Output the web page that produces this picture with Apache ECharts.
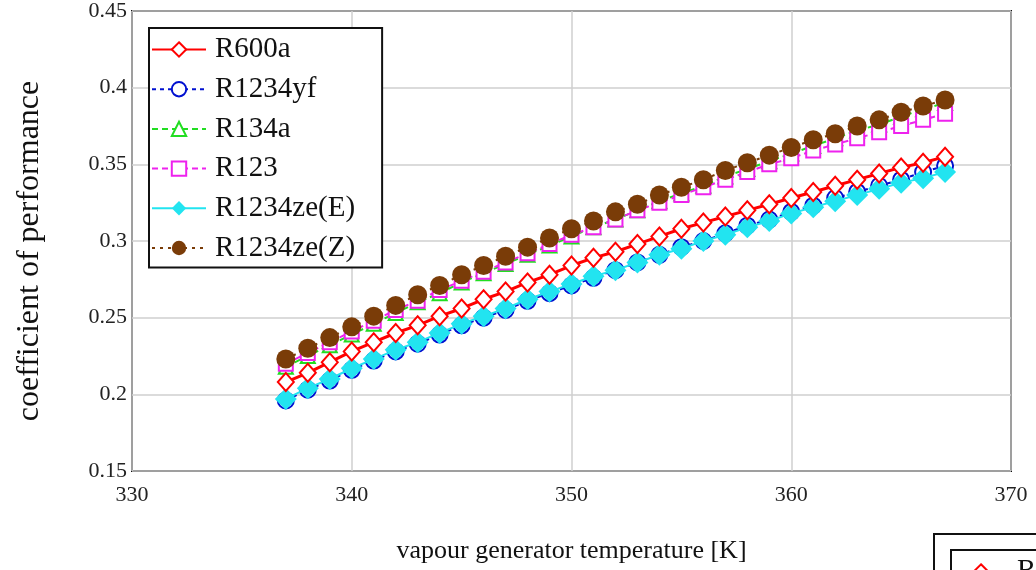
<!DOCTYPE html>
<html>
<head>
<meta charset="utf-8">
<script src="https://cdn.jsdelivr.net/npm/echarts@6/dist/echarts.min.js"></script>
<style>html,body{margin:0;padding:0;background:#fff;}#c{width:1036px;height:570px;}</style>
</head>
<body>
<div id="c"></div>
<script>
const temps = [337,338,339,340,341,342,343,344,345,346,347,348,349,350,351,352,353,354,355,356,357,358,359,360,361,362,363,364,365,366,367];
const R600a = [.208,.214,.221,.228,.234,.240,.245,.251,.256,.262,.267,.273,.278,.284,.289,.293,.298,.303,.308,.312,.316,.320,.324,.328,.332,.336,.340,.344,.348,.351,.355];
const R1234yf = [.196,.203,.209,.216,.222,.228,.233,.239,.245,.250,.255,.261,.266,.271,.276,.281,.286,.291,.296,.300,.305,.310,.314,.319,.323,.328,.332,.336,.340,.345,.349];
const R134a = [.218,.225,.232,.239,.246,.253,.260,.266,.273,.279,.285,.291,.297,.303,.309,.314,.320,.326,.331,.336,.342,.347,.352,.357,.362,.367,.372,.376,.381,.386,.390];
const R123 = [.220,.227,.234,.241,.248,.255,.261,.268,.274,.280,.286,.292,.298,.304,.309,.314,.320,.325,.330,.335,.340,.345,.350,.354,.359,.363,.367,.371,.375,.379,.383];
const R1234zeE = [.197,.204,.210,.217,.223,.229,.234,.240,.246,.251,.256,.262,.267,.272,.277,.281,.286,.291,.295,.300,.304,.309,.313,.318,.322,.326,.330,.334,.338,.341,.345];
const R1234zeZ = [.223,.230,.237,.244,.251,.258,.265,.271,.278,.284,.290,.296,.302,.308,.313,.319,.324,.330,.335,.340,.346,.351,.356,.361,.366,.370,.375,.379,.384,.388,.392];
const seriesNames = ['R600a','R1234yf','R134a','R123','R1234ze(E)','R1234ze(Z)'];
const xTicks = {min:330, max:370, interval:10};
const yTicks = {min:0.15, max:0.45, interval:0.05};

const pair = arr => arr.map((v,i)=>[temps[i], v]);
const serif = '"Liberation Serif","DejaVu Serif",serif';

const chart = echarts.init(document.getElementById('c'), null, {renderer:'canvas'});
chart.setOption({
  animation:false,
  backgroundColor:'#fff',
  grid:{left:132, top:11, right:25, bottom:99, show:true, borderColor:'#111', borderWidth:2,
    backgroundColor:'transparent', containLabel:false, outerBoundsMode:'none'},
  xAxis:{type:'value', min:xTicks.min, max:xTicks.max, interval:xTicks.interval,
    name:'vapour generator temperature [K]', nameLocation:'middle', nameGap:67,
    nameTextStyle:{fontFamily:serif, fontSize:26, color:'#111'},
    axisLine:{show:false}, axisTick:{show:false},
    axisLabel:{fontFamily:serif, fontSize:22, color:'#222', margin:13},
    splitLine:{show:true, lineStyle:{color:'#cfcfcf', width:1.5}}},
  yAxis:{type:'value', min:yTicks.min, max:yTicks.max, interval:yTicks.interval,
    name:'coefficient of performance', nameLocation:'middle', nameGap:86,
    nameTextStyle:{fontFamily:serif, fontSize:32, color:'#111', padding:[0,20,0,0]},
    axisLine:{show:false}, axisTick:{show:false},
    axisLabel:{fontFamily:serif, fontSize:22, color:'#222', margin:5},
    splitLine:{show:true, lineStyle:{color:'#cfcfcf', width:1.5}}},
  legend:[{
    orient:'vertical', left:149, top:28, data:seriesNames,
    borderColor:'#111', borderWidth:2, backgroundColor:'#fff',
    padding:[7,27,5,2], itemWidth:54, itemHeight:18, itemGap:10.7,
    textStyle:{fontFamily:serif, fontSize:29, lineHeight:28, color:'#111', padding:[0,0,0,4]}
  },{
    orient:'vertical', left:951, top:550, data:['R600a'],
    borderColor:'#111', borderWidth:2, backgroundColor:'#fff',
    padding:[7,14,6,2], itemWidth:54, itemHeight:18,
    textStyle:{fontFamily:serif, fontSize:29, lineHeight:28, color:'#111', padding:[0,0,0,4]}
  }],
  graphic:[{type:'rect', left:933, top:533, z:-1, shape:{width:200, height:100},
    style:{fill:'#fff', stroke:'#111', lineWidth:2}}],
  series:[
    {name:'R600a', type:'line', data:pair(R600a), symbol:'emptyDiamond', symbolSize:[16,18], showAllSymbol:true,
      itemStyle:{color:'#ff0000', borderColor:'#ff0000', borderWidth:1.5},
      lineStyle:{color:'#ff0000', width:3}, z:4,
      emphasis:{disabled:true}},
    {name:'R1234yf', type:'line', data:pair(R1234yf), symbol:'emptyCircle', symbolSize:16, showAllSymbol:true,
      itemStyle:{color:'#0010d0', borderWidth:2}, lineStyle:{color:'#0010d0', width:2, type:[4,4]}, z:2,
      emphasis:{disabled:true}},
    {name:'R134a', type:'line', data:pair(R134a), symbol:'emptyTriangle', symbolSize:14, showAllSymbol:true,
      itemStyle:{color:'#22dd22', borderWidth:1.5}, lineStyle:{color:'#22dd22', width:2, type:[6,4]}, z:2,
      emphasis:{disabled:true}},
    {name:'R123', type:'line', data:pair(R123), symbol:'emptyRect', symbolSize:14, showAllSymbol:true,
      itemStyle:{color:'#ee22ee', borderWidth:1.5}, lineStyle:{color:'#ee22ee', width:2, type:[6,4]}, z:3,
      emphasis:{disabled:true}},
    {name:'R1234ze(E)', type:'line', data:pair(R1234zeE), symbol:'diamond', symbolSize:22, showAllSymbol:true,
      itemStyle:{color:'#22e4f0'}, lineStyle:{color:'#22e4f0', width:2}, z:3,
      emphasis:{disabled:true}},
    {name:'R1234ze(Z)', type:'line', data:pair(R1234zeZ), symbol:'circle', symbolSize:19, showAllSymbol:true,
      itemStyle:{color:'#7a3c08'}, lineStyle:{color:'#7a3c08', width:2, type:[3,5]}, z:5,
      emphasis:{disabled:true}}
  ]
});
</script>
</body>
</html>
